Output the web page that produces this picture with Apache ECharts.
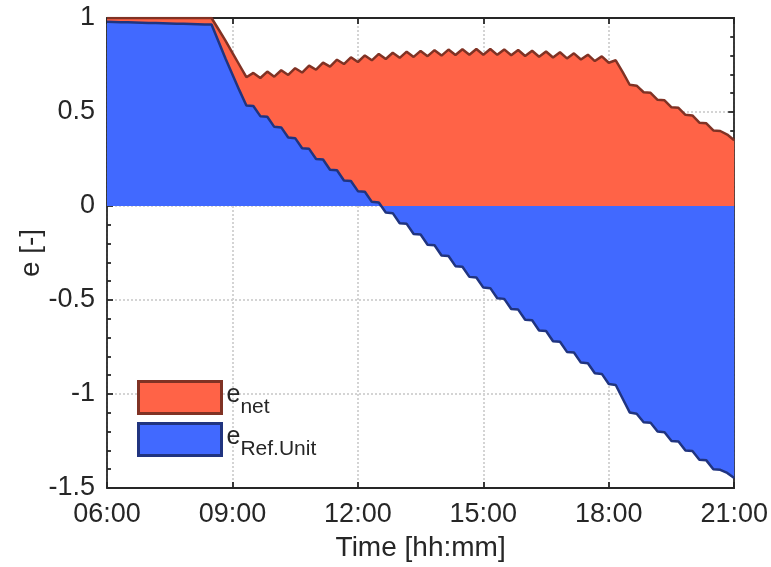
<!DOCTYPE html>
<html>
<head>
<meta charset="utf-8">
<script src="https://cdn.jsdelivr.net/npm/echarts@6/dist/echarts.min.js"></script>
<style>
html,body{margin:0;padding:0;background:#fff;}
#chart{width:771px;height:567px;}
</style>
</head>
<body>
<div id="chart"></div>
<script>
// ---- data ----
const times = [
 "06:00","06:10","06:20","06:30","06:40","06:50","07:00","07:10","07:20","07:30","07:40","07:50",
 "08:00","08:10","08:20","08:30","08:40","08:50","09:00","09:10","09:20","09:30","09:40","09:50",
 "10:00","10:10","10:20","10:30","10:40","10:50","11:00","11:10","11:20","11:30","11:40","11:50",
 "12:00","12:10","12:20","12:30","12:40","12:50","13:00","13:10","13:20","13:30","13:40","13:50",
 "14:00","14:10","14:20","14:30","14:40","14:50","15:00","15:10","15:20","15:30","15:40","15:50",
 "16:00","16:10","16:20","16:30","16:40","16:50","17:00","17:10","17:20","17:30","17:40","17:50",
 "18:00","18:10","18:20","18:30","18:40","18:50","19:00","19:10","19:20","19:30","19:40","19:50",
 "20:00","20:10","20:20","20:30","20:40","20:50","21:00"
];
const eNet = [
 1.000,1.000,1.000,1.000,1.000,1.000,1.000,1.000,1.000,1.000,1.000,1.000,
 1.000,1.000,1.000,1.000,0.940,0.880,0.815,0.750,0.685,0.708,0.681,0.715,
 0.688,0.722,0.697,0.733,0.710,0.747,0.725,0.763,0.741,0.778,0.755,0.791,
 0.766,0.801,0.775,0.809,0.782,0.815,0.788,0.821,0.793,0.825,0.797,0.829,
 0.800,0.832,0.803,0.834,0.805,0.835,0.805,0.835,0.804,0.833,0.802,0.830,
 0.798,0.826,0.794,0.822,0.790,0.818,0.785,0.812,0.779,0.805,0.771,0.796,
 0.762,0.775,0.712,0.645,0.640,0.605,0.602,0.565,0.562,0.525,0.522,0.485,
 0.482,0.443,0.440,0.402,0.399,0.380,0.350
];
const eRefUnit = [
 0.980,0.979,0.978,0.977,0.976,0.975,0.974,0.973,0.972,0.971,0.970,0.969,
 0.968,0.967,0.966,0.965,0.875,0.785,0.700,0.615,0.535,0.532,0.478,0.475,
 0.421,0.418,0.364,0.361,0.307,0.304,0.250,0.247,0.193,0.190,0.136,0.133,
 0.079,0.076,0.022,0.019,-0.035,-0.038,-0.092,-0.095,-0.149,-0.152,-0.206,-0.209,
 -0.263,-0.266,-0.320,-0.323,-0.377,-0.380,-0.434,-0.437,-0.491,-0.494,-0.548,-0.551,
 -0.605,-0.608,-0.662,-0.665,-0.719,-0.722,-0.776,-0.779,-0.833,-0.836,-0.890,-0.893,
 -0.947,-0.952,-1.025,-1.098,-1.105,-1.150,-1.153,-1.200,-1.203,-1.250,-1.253,-1.300,
 -1.303,-1.350,-1.353,-1.400,-1.403,-1.420,-1.447
];
const xTickLabels = ["06:00","09:00","12:00","15:00","18:00","21:00"];
const yTickLabels = ["-1.5","-1","-0.5","0","0.5","1"];
const seriesNames = ["e_net","e_Ref.Unit"];

// ---- build ----
function toHours(s){ const p = s.split(":"); return +p[0] + (+p[1])/60; }
const netData = times.map((t,i)=>[toHours(t), eNet[i]]);
const refData = times.map((t,i)=>[toHours(t), eRefUnit[i]]);

const axisColor = '#262626';
const fontFam = '"Liberation Sans", Arial, Helvetica, sans-serif';
const gridLine = {show:true, lineStyle:{color:'#d4d4d4', width:2, type:[2,2]}};

const redFill = '#FF6347', redEdge = '#803224';
const blueFill = '#4169FF', blueEdge = '#203480';
const axW = 1.8;

const chart = echarts.init(document.getElementById('chart'), null, {renderer:'canvas'});
chart.setOption({
  animation:false,
  backgroundColor:'#fff',
  grid:{left:107, right:36, top:18, bottom:79, containLabel:false},
  xAxis:[{
    type:'value', min:6, max:21, interval:3, position:'bottom',
    axisLine:{show:true, onZero:false, lineStyle:{color:axisColor, width:axW}},
    axisTick:{show:true, inside:true, length:6, lineStyle:{color:axisColor, width:axW}},
    axisLabel:{color:axisColor, fontSize:27, fontFamily:fontFam, margin:13,
      formatter:v=>xTickLabels[Math.round((v-6)/3)]},
    splitLine:gridLine,
    name:'Time [hh:mm]', nameLocation:'middle', nameGap:46, nameMoveOverlap:false,
    nameTextStyle:{color:axisColor, fontSize:28, fontFamily:fontFam}
  },{
    type:'value', min:6, max:21, interval:3, position:'top',
    axisLine:{show:true, onZero:false, lineStyle:{color:axisColor, width:axW}},
    axisTick:{show:true, inside:true, length:6, lineStyle:{color:axisColor, width:axW}},
    axisLabel:{show:false}, splitLine:{show:false}
  }],
  yAxis:[{
    type:'value', min:-1.5, max:1, interval:0.5, position:'left',
    axisLine:{show:true, onZero:false, lineStyle:{color:axisColor, width:axW}},
    axisTick:{show:true, inside:true, length:6, lineStyle:{color:axisColor, width:axW}},
    minorTick:{show:true, splitNumber:5, length:4, lineStyle:{color:axisColor, width:axW}},
    axisLabel:{color:axisColor, fontSize:27, fontFamily:fontFam, margin:12,
      formatter:v=>yTickLabels[Math.round((v+1.5)/0.5)]},
    splitLine:gridLine,
    name:'e [-]', nameLocation:'middle', nameGap:62, nameRotate:90, nameMoveOverlap:false,
    nameTextStyle:{color:axisColor, fontSize:28, fontFamily:fontFam}
  },{
    type:'value', min:-1.5, max:1, interval:0.5, position:'right',
    axisLine:{show:true, onZero:false, lineStyle:{color:axisColor, width:axW}},
    axisTick:{show:true, inside:true, length:6, lineStyle:{color:axisColor, width:axW}},
    minorTick:{show:true, splitNumber:5, length:4, lineStyle:{color:axisColor, width:axW}},
    axisLabel:{show:false}, splitLine:{show:false}
  }],
  legend:{
    orient:'vertical', left:137, top:380, padding:0, itemWidth:83, itemHeight:32, itemGap:4,
    icon:'rect', selectedMode:false,
    data:[
      {name:seriesNames[0], itemStyle:{color:redFill, borderColor:redEdge, borderWidth:3}},
      {name:seriesNames[1], itemStyle:{color:blueFill, borderColor:blueEdge, borderWidth:3}}
    ],
    formatter:name=>'{e|e}{s|'+name.split('_')[1]+'}',
    textStyle:{color:axisColor, fontFamily:fontFam,
      rich:{
        e:{fontSize:25, fontFamily:fontFam, color:axisColor, padding:[0,0,5,0]},
        s:{fontSize:21, fontFamily:fontFam, color:axisColor, padding:[20,0,0,0]}
      }}
  },
  series:[{
    name:seriesNames[0], type:'line', data:netData, symbol:'none', z:3,
    lineStyle:{color:redEdge, width:2.5},
    itemStyle:{color:redFill},
    areaStyle:{color:redFill, opacity:1, origin:0}
  },{
    name:seriesNames[1], type:'line', data:refData, symbol:'none', z:4,
    lineStyle:{color:blueEdge, width:2.5},
    itemStyle:{color:blueFill},
    areaStyle:{color:blueFill, opacity:1, origin:0}
  }]
});
</script>
</body>
</html>
